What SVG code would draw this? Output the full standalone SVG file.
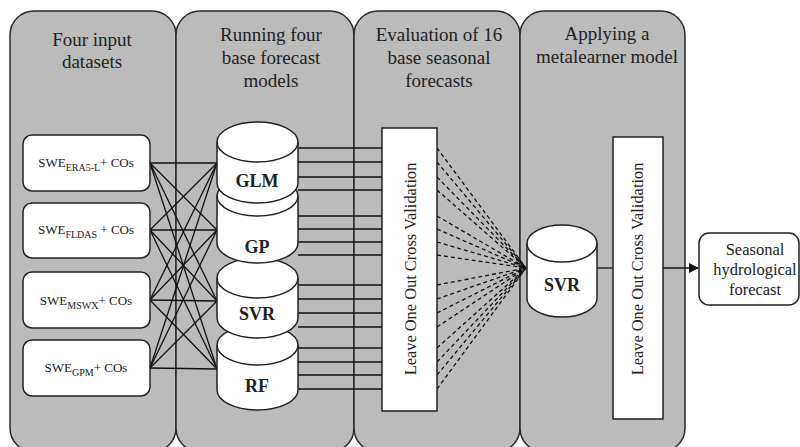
<svg xmlns="http://www.w3.org/2000/svg" width="800" height="447" viewBox="0 0 800 447">
<style>
.panel{fill:#bbbbbb;stroke:#2a2a2a;stroke-width:1.5}
.title{font-family:'Liberation Serif','Times New Roman',Times,'DejaVu Serif',serif;font-size:19px;fill:#222;text-anchor:middle}
.box{fill:#fff;stroke:#222;stroke-width:1.5}
.in{font-family:'Liberation Serif','Times New Roman',Times,'DejaVu Serif',serif;font-size:13px;fill:#222;text-anchor:middle}
.sub{font-size:10px}
.cyl{fill:#fff;stroke:#222;stroke-width:1.5}
.arc{fill:none;stroke:#222;stroke-width:1.5}
.ct{font-family:'Liberation Serif','Times New Roman',Times,'DejaVu Serif',serif;font-size:18px;font-weight:bold;fill:#222;text-anchor:middle}
.vt{font-family:'Liberation Serif','Times New Roman',Times,'DejaVu Serif',serif;font-size:16.4px;fill:#222;text-anchor:middle}
.out{font-family:'Liberation Serif','Times New Roman',Times,'DejaVu Serif',serif;font-size:16.5px;fill:#222;text-anchor:middle}
.ln{stroke:#111;stroke-width:1.3;fill:none}
.dl{stroke:#111;stroke-width:1.3;fill:none;stroke-dasharray:4 3}
</style>
<defs>
<marker id="ah" markerWidth="10" markerHeight="10" refX="9" refY="5" orient="auto" markerUnits="userSpaceOnUse">
<path d="M0,0 L10,5 L0,10 Z" fill="#111"/>
</marker>
</defs>

<g id="panel-inputs">
<rect class="panel" x="10" y="11" width="166" height="441" rx="24"/>
<text class="title" x="92" y="46">Four input</text>
<text class="title" x="92" y="68">datasets</text>
</g>
<g id="panel-base">
<rect class="panel" x="176" y="11" width="178" height="441" rx="24"/>
<text class="title" x="271" y="41">Running four</text>
<text class="title" x="271" y="64">base forecast</text>
<text class="title" x="271" y="87">models</text>
</g>
<g id="panel-eval">
<rect class="panel" x="354" y="11" width="166" height="441" rx="24"/>
<text class="title" x="439" y="41">Evaluation of 16</text>
<text class="title" x="439" y="64">base seasonal</text>
<text class="title" x="439" y="87">forecasts</text>
</g>
<g id="panel-meta">
<rect class="panel" x="520" y="11" width="165" height="441" rx="24"/>
<text class="title" x="607" y="40">Applying a</text>
<text class="title" x="607" y="63">metalearner model</text>
</g>

<g id="connectors">
<line class="ln" x1="150" y1="163" x2="217" y2="163"/>
<line class="ln" x1="150" y1="163" x2="217" y2="230"/>
<line class="ln" x1="150" y1="163" x2="217" y2="301"/>
<line class="ln" x1="150" y1="163" x2="217" y2="369"/>
<line class="ln" x1="150" y1="230" x2="217" y2="163"/>
<line class="ln" x1="150" y1="230" x2="217" y2="230"/>
<line class="ln" x1="150" y1="230" x2="217" y2="301"/>
<line class="ln" x1="150" y1="230" x2="217" y2="369"/>
<line class="ln" x1="150" y1="300" x2="217" y2="163"/>
<line class="ln" x1="150" y1="300" x2="217" y2="230"/>
<line class="ln" x1="150" y1="300" x2="217" y2="301"/>
<line class="ln" x1="150" y1="300" x2="217" y2="369"/>
<line class="ln" x1="150" y1="368" x2="217" y2="163"/>
<line class="ln" x1="150" y1="368" x2="217" y2="230"/>
<line class="ln" x1="150" y1="368" x2="217" y2="301"/>
<line class="ln" x1="150" y1="368" x2="217" y2="369"/>
<path class="ln" d="M298,148H382M298,162H382M298,177H382M298,190H382M298,216H382M298,229H382M298,242H382M298,255H382M298,285H382M298,299H382M298,313H382M298,327H382M298,348H382M298,362H382M298,375H382M298,389H382"/>
<path class="dl" d="M437,148L526,268M437,162L526,268M437,177L526,268M437,190L526,268M437,216L526,268M437,229L526,268M437,242L526,268M437,255L526,268M437,285L526,268M437,299L526,268M437,313L526,268M437,327L526,268M437,348L526,268M437,362L526,268M437,375L526,268M437,389L526,268"/>
<line class="ln" x1="597" y1="268" x2="613" y2="268"/>
<line class="ln" x1="663" y1="268" x2="698" y2="268" marker-end="url(#ah)"/>
</g>

<g id="input-era5">
<rect class="box" x="23" y="135" width="127" height="56" rx="9"/>
<text class="in" x="86" y="167">SWE<tspan class="sub" dy="4">ERA5-L</tspan><tspan dy="-4">+ COs</tspan></text>
</g>
<g id="input-fldas">
<rect class="box" x="23" y="203" width="127" height="55" rx="9"/>
<text class="in" x="86" y="234">SWE<tspan class="sub" dy="4">FLDAS</tspan><tspan dy="-4"> + COs</tspan></text>
</g>
<g id="input-mswx">
<rect class="box" x="23" y="272" width="127" height="56" rx="9"/>
<text class="in" x="86" y="305">SWE<tspan class="sub" dy="4">MSWX</tspan><tspan dy="-4">+ COs</tspan></text>
</g>
<g id="input-gpm">
<rect class="box" x="23" y="340" width="127" height="56" rx="9"/>
<text class="in" x="86" y="372">SWE<tspan class="sub" dy="4">GPM</tspan><tspan dy="-4">+ COs</tspan></text>
</g>

<g id="model-rf">
<path class="cyl" d="M217,345 A40.5,20 0 0 1 298,345 L298,390 A40.5,20 0 0 1 217,390 Z"/>
<path class="arc" d="M217,345 A40.5,20 0 0 0 298,345"/>
<text class="ct" x="257" y="392">RF</text>
</g>
<g id="model-svr">
<path class="cyl" d="M217,278 A40.5,20 0 0 1 298,278 L298,318 A40.5,20 0 0 1 217,318 Z"/>
<path class="arc" d="M217,278 A40.5,20 0 0 0 298,278"/>
<text class="ct" x="257" y="320">SVR</text>
</g>
<g id="model-gp">
<path class="cyl" d="M217,196 A40.5,20 0 0 1 298,196 L298,243 A40.5,20 0 0 1 217,243 Z"/>
<path class="arc" d="M217,196 A40.5,20 0 0 0 298,196"/>
<text class="ct" x="257" y="253">GP</text>
</g>
<g id="model-glm">
<path class="cyl" d="M217,142 A40.5,20 0 0 1 298,142 L298,183 A40.5,20 0 0 1 217,183 Z"/>
<path class="arc" d="M217,142 A40.5,20 0 0 0 298,142"/>
<text class="ct" x="257" y="187">GLM</text>
</g>

<g id="loocv-base">
<rect class="box" x="382" y="128" width="55" height="283"/>
<text class="vt" transform="translate(416,269) rotate(-90)">Leave One Out Cross Validation</text>
</g>

<g id="meta-svr">
<path class="cyl" d="M527,243.5 A35,18.5 0 0 1 597,243.5 L597,298.5 A35,18.5 0 0 1 527,298.5 Z"/>
<path class="arc" d="M527,243.5 A35,18.5 0 0 0 597,243.5"/>
<text class="ct" x="562" y="291">SVR</text>
</g>

<g id="loocv-meta">
<rect class="box" x="613" y="137" width="50" height="282"/>
<text class="vt" transform="translate(643,269) rotate(-90)">Leave One Out Cross Validation</text>
</g>

<g id="output">
<rect class="box" x="699" y="233" width="100" height="72" rx="10"/>
<text class="out" x="755" y="255">Seasonal</text>
<text class="out" x="755" y="275">hydrological</text>
<text class="out" x="755" y="295">forecast</text>
</g>
</svg>
